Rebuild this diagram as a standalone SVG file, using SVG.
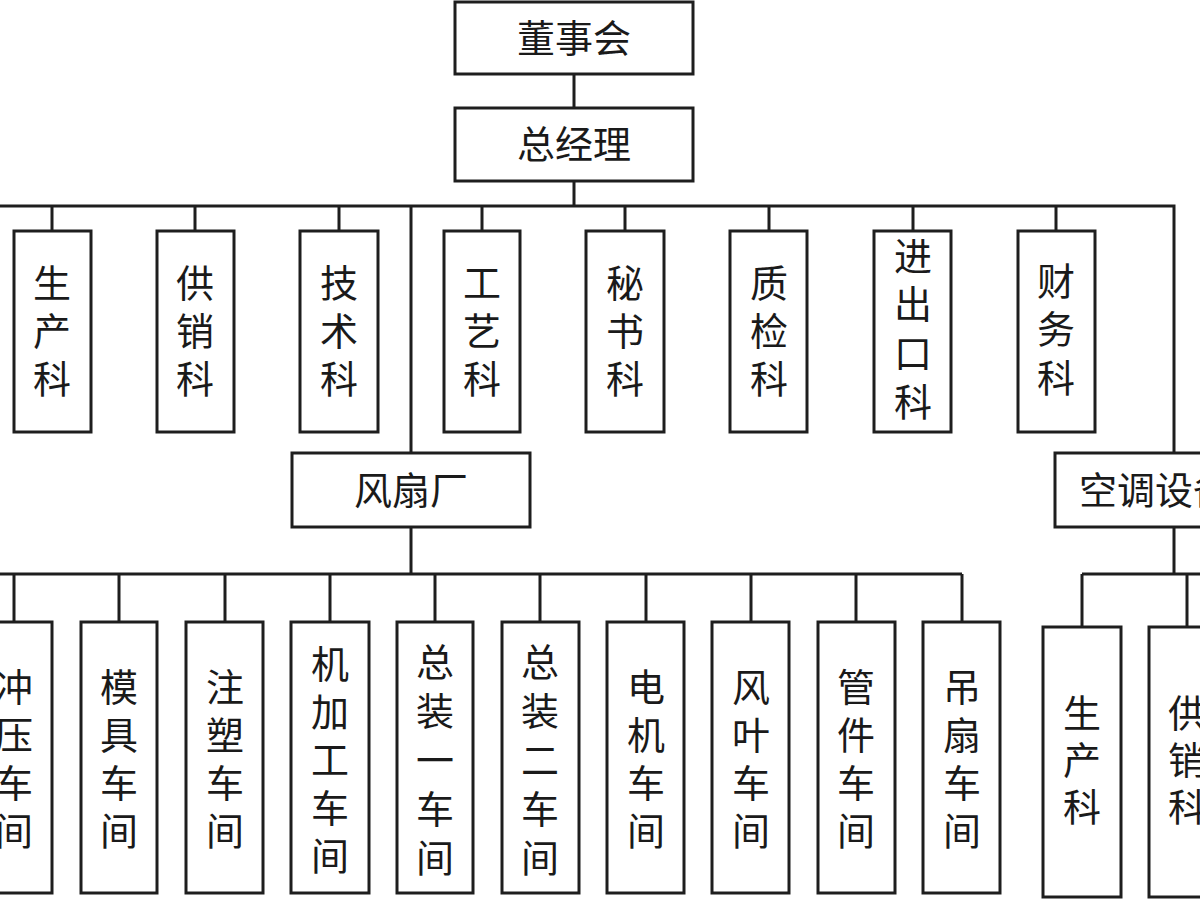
<svg xmlns="http://www.w3.org/2000/svg" width="1200" height="900" viewBox="0 0 1200 900">
<style>
.box{fill:#fff;stroke:#1e1e1e;stroke-width:3}
.ln{fill:none;stroke:#1e1e1e;stroke-width:3}
.t{font-family:"Noto Sans CJK SC","Noto Sans",sans-serif;font-size:38px;fill:#1a1a1a;text-anchor:middle}
</style>
<rect width="1200" height="900" fill="#fff"/>
<g id="connectors">
<path class="ln" d="M574 74V108M574 181V206M0 206H1174V453M411 206V453"/>
<path class="ln" d="M52 206V231M195 206V231M339 206V231M482 206V231M625 206V231M769 206V231M913 206V231M1056 206V231"/>
<path class="ln" d="M411 527V574M0 574H962M14 574V622M119 574V622M225 574V622M330 574V622M435 574V622M540 574V622M646 574V622M751 574V622M856 574V622M962 574V622"/>
<path class="ln" d="M1174 527V574M1082 574H1210M1082 574V627M1187 574V627"/>
</g>
<g id="n-dongshihui"><rect class="box" x="455" y="2" width="238" height="72"/><text class="t" x="574" y="52">董事会</text></g>
<g id="n-zongjingli"><rect class="box" x="455" y="108" width="238" height="73"/><text class="t" x="574" y="158">总经理</text></g>

<g id="n-shengchan"><rect class="box" x="14" y="231" width="77" height="201"/><text class="t"><tspan x="52" y="297">生</tspan><tspan x="52" y="345">产</tspan><tspan x="52" y="393">科</tspan></text></g>
<g id="n-gongxiao"><rect class="box" x="157" y="231" width="77" height="201"/><text class="t"><tspan x="195" y="297">供</tspan><tspan x="195" y="345">销</tspan><tspan x="195" y="393">科</tspan></text></g>
<g id="n-jishu"><rect class="box" x="300" y="231" width="78" height="201"/><text class="t"><tspan x="339" y="297">技</tspan><tspan x="339" y="345">术</tspan><tspan x="339" y="393">科</tspan></text></g>
<g id="n-gongyi"><rect class="box" x="444" y="231" width="76" height="201"/><text class="t"><tspan x="482" y="297">工</tspan><tspan x="482" y="345">艺</tspan><tspan x="482" y="393">科</tspan></text></g>
<g id="n-mishu"><rect class="box" x="586" y="231" width="78" height="201"/><text class="t"><tspan x="625" y="297">秘</tspan><tspan x="625" y="345">书</tspan><tspan x="625" y="393">科</tspan></text></g>
<g id="n-zhijian"><rect class="box" x="730" y="231" width="77" height="201"/><text class="t"><tspan x="769" y="297">质</tspan><tspan x="769" y="345">检</tspan><tspan x="769" y="393">科</tspan></text></g>
<g id="n-jinchukou"><rect class="box" x="874" y="231" width="77" height="201"/><text class="t"><tspan x="913" y="270">进</tspan><tspan x="913" y="318">出</tspan><tspan x="913" y="367">口</tspan><tspan x="913" y="416">科</tspan></text></g>
<g id="n-caiwu"><rect class="box" x="1018" y="231" width="77" height="201"/><text class="t"><tspan x="1056" y="295">财</tspan><tspan x="1056" y="343">务</tspan><tspan x="1056" y="392">科</tspan></text></g>

<g id="n-fengshanchang"><rect class="box" x="292" y="453" width="238" height="74"/><text class="t" x="411" y="504">风扇厂</text></g>
<g id="n-kongtiao"><rect class="box" x="1055" y="453" width="238" height="74"/><text class="t" x="1174" y="504">空调设备厂</text></g>

<g id="n-chongya"><rect class="box" x="-24" y="622" width="76" height="271"/><text class="t"><tspan x="14" y="701">冲</tspan><tspan x="14" y="749">压</tspan><tspan x="14" y="797">车</tspan><tspan x="14" y="845">间</tspan></text></g>
<g id="n-muju"><rect class="box" x="81" y="622" width="76" height="271"/><text class="t"><tspan x="119" y="701">模</tspan><tspan x="119" y="749">具</tspan><tspan x="119" y="797">车</tspan><tspan x="119" y="845">间</tspan></text></g>
<g id="n-zhusu"><rect class="box" x="186" y="622" width="77" height="271"/><text class="t"><tspan x="225" y="701">注</tspan><tspan x="225" y="749">塑</tspan><tspan x="225" y="797">车</tspan><tspan x="225" y="845">间</tspan></text></g>
<g id="n-jijiagong"><rect class="box" x="291" y="622" width="78" height="271"/><text class="t"><tspan x="330" y="678">机</tspan><tspan x="330" y="726">加</tspan><tspan x="330" y="774">工</tspan><tspan x="330" y="822">车</tspan><tspan x="330" y="870">间</tspan></text></g>
<g id="n-zongzhuang1"><rect class="box" x="397" y="622" width="76" height="271"/><text class="t"><tspan x="435" y="676">总</tspan><tspan x="435" y="725">装</tspan><tspan x="435" y="774">一</tspan><tspan x="435" y="823">车</tspan><tspan x="435" y="872">间</tspan></text></g>
<g id="n-zongzhuang2"><rect class="box" x="502" y="622" width="77" height="271"/><text class="t"><tspan x="540" y="676">总</tspan><tspan x="540" y="725">装</tspan><tspan x="540" y="774">二</tspan><tspan x="540" y="823">车</tspan><tspan x="540" y="872">间</tspan></text></g>
<g id="n-dianji"><rect class="box" x="607" y="622" width="77" height="271"/><text class="t"><tspan x="646" y="701">电</tspan><tspan x="646" y="749">机</tspan><tspan x="646" y="797">车</tspan><tspan x="646" y="845">间</tspan></text></g>
<g id="n-fengye"><rect class="box" x="712" y="622" width="77" height="271"/><text class="t"><tspan x="751" y="701">风</tspan><tspan x="751" y="749">叶</tspan><tspan x="751" y="797">车</tspan><tspan x="751" y="845">间</tspan></text></g>
<g id="n-guanjian"><rect class="box" x="818" y="622" width="77" height="271"/><text class="t"><tspan x="856" y="701">管</tspan><tspan x="856" y="749">件</tspan><tspan x="856" y="797">车</tspan><tspan x="856" y="845">间</tspan></text></g>
<g id="n-diaoshan"><rect class="box" x="923" y="622" width="77" height="271"/><text class="t"><tspan x="962" y="701">吊</tspan><tspan x="962" y="749">扇</tspan><tspan x="962" y="797">车</tspan><tspan x="962" y="845">间</tspan></text></g>

<g id="n-kt-shengchan"><rect class="box" x="1043" y="627" width="78" height="270"/><text class="t"><tspan x="1082" y="727">生</tspan><tspan x="1082" y="774">产</tspan><tspan x="1082" y="821">科</tspan></text></g>
<g id="n-kt-gongxiao"><rect class="box" x="1149" y="627" width="77" height="270"/><text class="t"><tspan x="1187" y="727">供</tspan><tspan x="1187" y="774">销</tspan><tspan x="1187" y="821">科</tspan></text></g>
</svg>
